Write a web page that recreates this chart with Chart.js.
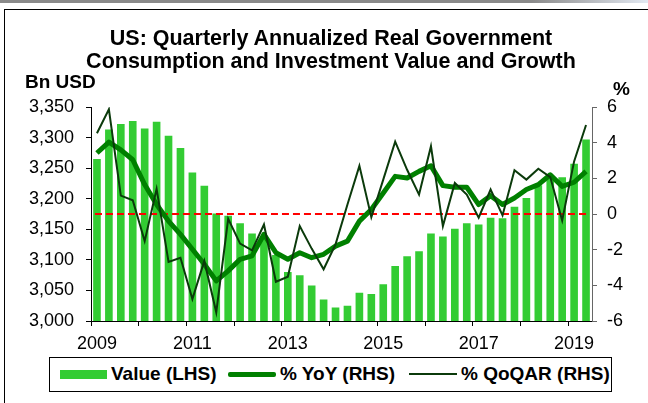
<!DOCTYPE html>
<html>
<head>
<meta charset="utf-8">
<script src="https://cdn.jsdelivr.net/npm/chart.js@4.4.0/dist/chart.umd.min.js"></script>
<style>
  body { margin: 0; background: #fff; }
  #wrap { position: relative; width: 648px; height: 403px; overflow: hidden;
          font-family: "Liberation Sans", Arial, sans-serif; color: #000; }
  #topbar { position: absolute; left: 0; top: 0; width: 648px; height: 3px;
            background: linear-gradient(to right, #8a8a8a 82%, #e3e9f2); }
  #frame { position: absolute; left: 4px; top: 9px; width: 700px; height: 500px;
           border-left: 1px solid #000; border-top: 1px solid #000; }
  #chart { position: absolute; left: 0; top: 0; }
  .txt { position: absolute; white-space: nowrap; font-weight: bold; }
  #title { left: 0; top: 27px; width: 662px; text-align: center; font-size: 21.5px; line-height: 23px; }
  #lunit { left: 25px; top: 72px; font-size: 19px; line-height: 19px; }
  #runit { left: 613px; top: 79px; font-size: 19px; line-height: 19px; }
  #legend { position: absolute; left: 49px; top: 357px; width: 561px; height: 33px;
            border: 1px solid #000; background: #fff; }
  #legend .sw { position: absolute; }
  #legend .lt { position: absolute; top: 6px; font-size: 19px; line-height: 19px; font-weight: bold; white-space: nowrap; }
</style>
</head>
<body>
<div id="wrap">
  <div id="topbar"></div>
  <div id="frame"></div>
  <canvas id="chart" width="648" height="403"></canvas>
  <div id="title" class="txt">US: Quarterly Annualized Real Government<br>Consumption and Investment Value and Growth</div>
  <div id="lunit" class="txt">Bn USD</div>
  <div id="runit" class="txt">%</div>
  <div id="legend">
    <div class="sw" style="left:10px; top:12px; width:47px; height:9px; background:#33cc33;"></div>
    <div class="lt" style="left:61px;">Value (LHS)</div>
    <div class="sw" style="left:178px; top:14px; width:48px; height:5px; background:#008000; border-radius:2px;"></div>
    <div class="lt" style="left:230px;">% YoY (RHS)</div>
    <div class="sw" style="left:359px; top:15px; width:48px; height:2px; background:#0b3a0b;"></div>
    <div class="lt" style="left:411px;">% QoQAR (RHS)</div>
  </div>
</div>
<script>
// Quarters 2009Q1 - 2019Q2
const quarters = [
  "2009Q1", "2009Q2", "2009Q3", "2009Q4", "2010Q1", "2010Q2", "2010Q3", "2010Q4",
  "2011Q1", "2011Q2", "2011Q3", "2011Q4", "2012Q1", "2012Q2", "2012Q3", "2012Q4",
  "2013Q1", "2013Q2", "2013Q3", "2013Q4", "2014Q1", "2014Q2", "2014Q3", "2014Q4",
  "2015Q1", "2015Q2", "2015Q3", "2015Q4", "2016Q1", "2016Q2", "2016Q3", "2016Q4",
  "2017Q1", "2017Q2", "2017Q3", "2017Q4", "2018Q1", "2018Q2", "2018Q3", "2018Q4",
  "2019Q1", "2019Q2",
];

// Year labels shown under the x axis
const yearLabels = ["2009", "2011", "2013", "2015", "2017", "2019"];

// Value, Bn USD (LHS)
const valueBn = [
  3265, 3313, 3322, 3327, 3315, 3326, 3303, 3283, 3243, 3221,
  3176, 3172, 3160, 3143, 3135, 3108, 3080, 3075, 3058, 3035,
  3022, 3025, 3046, 3044, 3060, 3090, 3106, 3114, 3143, 3138,
  3151, 3160, 3158, 3169, 3168, 3187, 3201, 3222, 3234, 3235,
  3257, 3297,
];

// % YoY (RHS)
const yoy = [
  3.42, 4.03, 3.6, 3.04, 1.65, 0.53, -0.4, -1.14, -1.98, -2.82,
  -3.75, -3.19, -2.54, -2.35, -1.14, -2.17, -2.54, -2.17, -2.45, -2.26,
  -1.8, -1.52, -0.4, 0.25, 1.18, 2.11, 2.02, 2.39, 2.7, 1.59,
  1.5, 1.5, 0.53, 1.03, 0.53, 0.9, 1.37, 1.65, 2.2, 1.55,
  1.78, 2.39,
];

// % QoQ annualized rate (RHS)
const qoqar = [
  4.53, 5.87, 1.03, 0.77, -1.52, 1.41, -2.69, -2.45, -4.77, -2.63,
  -5.51, -0.27, -1.66, -2.04, -0.59, -3.8, -3.52, -0.68, -1.94, -3.1,
  -1.7, 0.53, 2.7, -0.18, 1.93, 4.06, 2.48, 1.09, 3.8, -0.68,
  1.74, 1.09, -0.21, 1.37, -0.08, 2.45, 1.93, 2.54, 2.07, -0.36,
  2.95, 4.99,
];

Chart.defaults.font.family = '"Liberation Sans", Arial, sans-serif';
Chart.defaults.color = "#000";

// red dashed zero line, drawn right after the bars
const zeroLine = {
  id: "zeroLine",
  afterDatasetDraw(chart, args) {
    if (args.index !== 0) return;
    const x = chart.scales.x;
    const y = chart.scales.y1.getPixelForValue(0);
    const ctx = chart.ctx;
    ctx.save();
    ctx.strokeStyle = "#ff0000";
    ctx.lineWidth = 2;
    ctx.setLineDash([7, 4]);
    ctx.beginPath();
    ctx.moveTo(x.getPixelForValue(0) - 2, y);
    ctx.lineTo(x.getPixelForValue(quarters.length - 1), y);
    ctx.stroke();
    ctx.restore();
  },
};

new Chart(document.getElementById("chart"), {
  type: "bar",
  data: {
    labels: quarters,
    datasets: [
      {
        label: "Value (LHS)",
        data: valueBn,
        yAxisID: "y",
        backgroundColor: "#33cc33",
        barPercentage: 0.64,
        categoryPercentage: 1,
        order: 3,
      },
      {
        label: "% YoY (RHS)",
        type: "line",
        data: yoy,
        yAxisID: "y1",
        borderColor: "#008000",
        borderWidth: 5,
        pointRadius: 0,
        tension: 0,
        borderJoinStyle: "round",
        order: 2,
      },
      {
        label: "% QoQAR (RHS)",
        type: "line",
        data: qoqar,
        yAxisID: "y1",
        borderColor: "#0b3a0b",
        borderWidth: 2,
        pointRadius: 0,
        tension: 0,
        order: 1,
      },
    ],
  },
  options: {
    responsive: false,
    animation: false,
    devicePixelRatio: 1,
    layout: { padding: { top: 107, left: 0, right: 0, bottom: 0 } },
    plugins: {
      legend: { display: false },
      tooltip: { enabled: false },
    },
    scales: {
      x: {
        offset: true,
        grid: {
          offset: true,
          drawOnChartArea: false,
          tickLength: 5,
          color: (c) => (c.index % 4 === 0 ? "#000" : "rgba(0,0,0,0)"),
        },
        border: { color: "#000", width: 1 },
        ticks: {
          autoSkip: false,
          maxRotation: 0,
          padding: 7,
          font: { size: 18 },
          callback: function (v, i) {
            const q = quarters[i];
            return q.endsWith("Q1") && yearLabels.includes(q.slice(0, 4)) ? q.slice(0, 4) : "";
          },
        },
        afterFit: (s) => { s.height = 82; },
      },
      y: {
        position: "left",
        min: 3000,
        max: 3350,
        grid: { drawOnChartArea: false, tickLength: 5, color: "#000" },
        border: { color: "#000", width: 1 },
        ticks: {
          stepSize: 50,
          padding: 12,
          font: { size: 18 },
          callback: (v) => v.toLocaleString("en-US"),
        },
        afterFit: (s) => { s.width = 91; },
      },
      y1: {
        position: "right",
        min: -6,
        max: 6,
        grid: { drawOnChartArea: false, tickLength: 5, color: "#666" },
        border: { color: "#666", width: 1 },
        ticks: {
          stepSize: 2,
          padding: 10,
          font: { size: 18 },
        },
        afterFit: (s) => { s.width = 56; },
      },
    },
  },
  plugins: [zeroLine],
});
</script>
</body>
</html>
